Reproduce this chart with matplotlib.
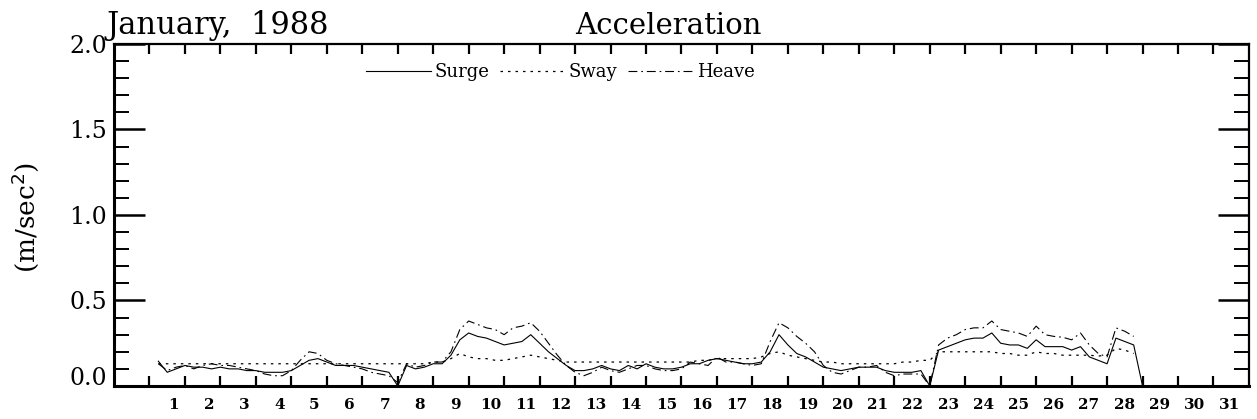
import numpy as np
import matplotlib
matplotlib.use('Agg')
import matplotlib.pyplot as plt
import matplotlib.transforms as mtransforms

plt.rcParams['font.family'] = ['DejaVu Serif']

# 6-hourly samples, days 1..28 (value 0 where the record has a gap)
t = np.arange(1.25, 29.01, 0.25)

surge = [0.145, 0.08, 0.10, 0.12,   0.11, 0.11, 0.10, 0.11,   0.10, 0.10, 0.09, 0.09,
         0.08, 0.08, 0.08, 0.09,    0.12, 0.15, 0.16, 0.14,   0.12, 0.12, 0.12, 0.11,
         0.10, 0.09, 0.08, 0.00,    0.12, 0.10, 0.11, 0.13,   0.13, 0.18, 0.27, 0.31,
         0.29, 0.28, 0.26, 0.24,    0.25, 0.26, 0.30, 0.25,   0.20, 0.16, 0.12, 0.09,
         0.09, 0.10, 0.12, 0.10,    0.09, 0.12, 0.10, 0.13,   0.11, 0.10, 0.10, 0.11,
         0.13, 0.13, 0.15, 0.16,    0.15, 0.14, 0.13, 0.13,   0.14, 0.20, 0.30, 0.24,
         0.19, 0.17, 0.14, 0.11,    0.10, 0.09, 0.10, 0.11,   0.11, 0.11, 0.09, 0.08,
         0.08, 0.08, 0.09, 0.00,    0.21, 0.23, 0.25, 0.27,   0.28, 0.28, 0.31, 0.25,
         0.24, 0.24, 0.22, 0.27,    0.23, 0.23, 0.23, 0.21,   0.23, 0.17, 0.15, 0.13,
         0.28, 0.26, 0.24, 0.00]

sway = [0.13, 0.13, 0.13, 0.13,    0.13, 0.13, 0.13, 0.13,   0.13, 0.13, 0.13, 0.13,
        0.13, 0.13, 0.13, 0.13,    0.13, 0.13, 0.13, 0.13,   0.13, 0.13, 0.13, 0.13,
        0.13, 0.13, 0.13, 0.13,    0.13, 0.13, 0.13, 0.14,   0.14, 0.16, 0.19, 0.17,
        0.16, 0.16, 0.15, 0.15,    0.16, 0.17, 0.18, 0.17,   0.16, 0.15, 0.14, 0.14,
        0.14, 0.14, 0.14, 0.14,    0.14, 0.14, 0.14, 0.14,   0.14, 0.14, 0.14, 0.14,
        0.14, 0.15, 0.15, 0.16,    0.16, 0.16, 0.16, 0.16,   0.17, 0.19, 0.20, 0.18,
        0.17, 0.16, 0.15, 0.14,    0.14, 0.13, 0.13, 0.13,   0.13, 0.13, 0.13, 0.13,
        0.14, 0.14, 0.15, 0.15,    0.20, 0.20, 0.20, 0.20,   0.20, 0.20, 0.20, 0.19,
        0.19, 0.18, 0.18, 0.20,    0.19, 0.19, 0.18, 0.18,   0.18, 0.18, 0.175, 0.18,
        0.22, 0.21, 0.19, np.nan]

heave = [0.13, 0.09, 0.11, 0.12,   0.10, 0.12, 0.13, 0.12,   0.12, 0.11, 0.10, 0.09,
         0.07, 0.06, 0.06, 0.09,   0.15, 0.20, 0.19, 0.15,   0.13, 0.12, 0.11, 0.10,
         0.08, 0.07, 0.06, 0.02,   0.13, 0.11, 0.12, 0.14,   0.14, 0.20, 0.33, 0.38,
         0.36, 0.34, 0.33, 0.30,   0.34, 0.35, 0.37, 0.32,   0.25, 0.18, 0.12, 0.08,
         0.06, 0.08, 0.11, 0.09,   0.08, 0.10, 0.12, 0.12,   0.10, 0.09, 0.09, 0.10,
         0.14, 0.13, 0.12, 0.17,   0.14, 0.14, 0.13, 0.12,   0.13, 0.26, 0.37, 0.34,
         0.29, 0.25, 0.20, 0.12,   0.08, 0.07, 0.09, 0.11,   0.11, 0.12, 0.08, 0.06,
         0.07, 0.07, 0.07, 0.00,   0.24, 0.28, 0.30, 0.33,   0.34, 0.34, 0.38, 0.33,
         0.32, 0.31, 0.29, 0.35,   0.30, 0.29, 0.285, 0.27,  0.31, 0.24, 0.19, 0.17,
         0.34, 0.32, 0.29, np.nan]

days = list(range(1, 32))

fig = plt.figure(figsize=(12.57, 4.19), dpi=100)
ax = fig.add_axes([0.0907, 0.0788, 0.9029, 0.8162])

ax.plot(t, surge, color='black', lw=0.8, ls='-', label='Surge')
ax.plot(t, sway, color='black', lw=0.9, ls=(0, (2, 4)), label='Sway')
ax.plot(t, heave, color='black', lw=0.8, ls=(0, (8, 3.5, 1.5, 3.5)), label='Heave')

ax.set_xlim(0, 32)
ax.set_ylim(0, 2.0)

# day boundaries as ticks, day numbers as labels between them
ax.set_xticks(days)
ax.set_xticklabels([])
ax.set_xticks(np.array(days) + np.linspace(0.68, 0.46, len(days)), minor=True)
ax.set_xticklabels([str(d) for d in days], minor=True, fontsize=11, fontweight='bold')
ax.tick_params(axis='x', which='major', direction='in', length=7, width=1.6,
               top=True, bottom=True)
ax.tick_params(axis='x', which='minor', length=0, pad=9)

ax.set_yticks([0.0, 0.5, 1.0, 1.5, 2.0])
ax.set_yticklabels(['0.0', '0.5', '1.0', '1.5', '2.0'], fontsize=17)
ax.set_yticks(np.arange(0, 2.01, 0.1), minor=True)
ax.tick_params(axis='y', which='major', direction='in', length=22, width=1.8,
               left=True, right=True, pad=5)
ax.tick_params(axis='y', which='minor', direction='in', length=11, width=1.4,
               left=True, right=True)
# lift the 0.0 label off the x axis
off = mtransforms.ScaledTranslation(0, 10 / 100, fig.dpi_scale_trans)
ylab0 = ax.get_yticklabels()[0]
ylab0.set_transform(ylab0.get_transform() + off)

for side in ['left', 'bottom']:
    ax.spines[side].set_linewidth(2.2)
for side in ['top', 'right']:
    ax.spines[side].set_linewidth(1.6)

fig.text(25 / 1257, 1 - 217 / 419, '(m/sec$^2$)', rotation=90, fontsize=19,
         ha='center', va='center')
fig.text(107 / 1257, 1 - 34 / 419, 'January,  1988', fontsize=22,
         ha='left', va='baseline')
fig.text(668 / 1257, 1 - 34 / 419, 'Acceleration', fontsize=21,
         ha='center', va='baseline')

ax.legend(loc='center', bbox_to_anchor=(560 / 1257, 1 - 72 / 419),
          bbox_transform=fig.transFigure, ncol=3, frameon=False,
          fontsize=13, handlelength=3.6, handletextpad=0.2, columnspacing=0.6)

fig.savefig('out.png', dpi=100)
